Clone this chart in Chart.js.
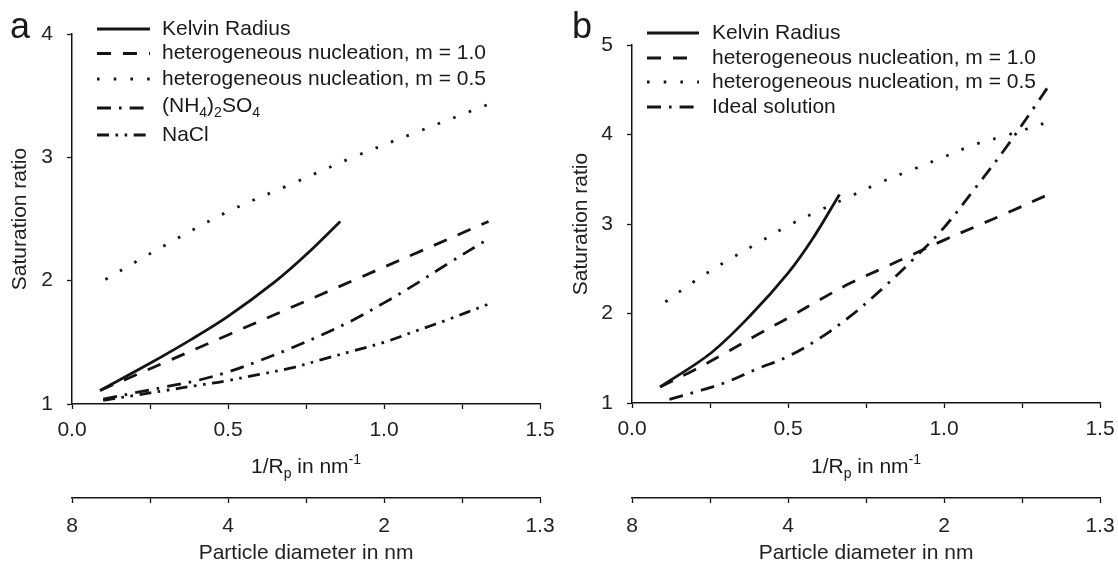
<!DOCTYPE html>
<html>
<head>
<meta charset="utf-8">
<title>Saturation ratio vs 1/Rp</title>
<script src="https://cdn.jsdelivr.net/npm/chart.js@4.4.0/dist/chart.umd.min.js"></script>
<style>
    body { margin: 0; background: #fff; }
    #wrap { position: relative; width: 1118px; height: 564px; }
    .panel { position: absolute; top: 0; width: 559px; height: 564px; }
</style>
</head>
<body>
<div id="wrap">
    <div class="panel" style="left:0"><canvas id="chartA" width="559" height="564"></canvas></div>
    <div class="panel" style="left:559px"><canvas id="chartB" width="559" height="564"></canvas></div>
</div>
<script>
// ---- Panel a data ----
const xKelvinA = [0.09, 0.25, 0.38, 0.5, 0.65, 0.75, 0.86];
const kelvinA  = [1.11, 1.33, 1.52, 1.71, 1.99, 2.21, 2.48];
const xHet10A  = [0.09, 0.3, 0.5, 0.7, 0.9, 1.1, 1.335];
const het10A   = [1.11, 1.34, 1.56, 1.78, 2.00, 2.22, 2.48];
const xHet05A  = [0.107, 0.3, 0.5, 0.7, 0.9, 1.1, 1.335];
const het05A   = [2.01, 2.29, 2.56, 2.78, 3.00, 3.20, 3.43];
const xSaltA   = [0.1, 0.2, 0.3, 0.4, 0.5, 0.6, 0.7, 0.8, 0.9, 1.0, 1.1, 1.2, 1.335];
const ammSulfA = [1.04, 1.09, 1.14, 1.19, 1.26, 1.35, 1.45, 1.56, 1.68, 1.82, 1.97, 2.13, 2.34];
const naclA    = [1.03, 1.07, 1.11, 1.15, 1.19, 1.24, 1.29, 1.36, 1.43, 1.50, 1.59, 1.68, 1.81];

// ---- Panel b data ----
const xKelvinB = [0.09, 0.25, 0.38, 0.5, 0.58, 0.665];
const kelvinB  = [1.18, 1.55, 1.98, 2.45, 2.84, 3.33];
const xHet10B  = [0.09, 0.2, 0.3, 0.4, 0.5, 0.6, 0.7, 0.8, 0.9, 1.0, 1.1, 1.2, 1.335];
const het10B   = [1.18, 1.37, 1.56, 1.76, 1.95, 2.15, 2.34, 2.50, 2.66, 2.82, 2.97, 3.12, 3.33];
const xHet05B  = [0.107, 0.2, 0.3, 0.4, 0.5, 0.6, 0.7, 0.8, 0.9, 1.0, 1.1, 1.2, 1.335];
const het05B   = [2.13, 2.36, 2.58, 2.78, 2.98, 3.15, 3.31, 3.47, 3.61, 3.75, 3.89, 3.99, 4.14];
const xIdealB  = [0.12, 0.2, 0.3, 0.4, 0.5, 0.6, 0.7, 0.8, 0.9, 1.0, 1.1, 1.2, 1.3, 1.335];
const idealB   = [1.04, 1.12, 1.23, 1.38, 1.52, 1.72, 1.97, 2.27, 2.60, 2.96, 3.40, 3.86, 4.36, 4.54];

// ---- Axes / labels ----
const xTickPos       = [0, 0.5, 1.0, 1.5];
const xTickLabels    = ['0.0', '0.5', '1.0', '1.5'];
const diameterLabels = ['8', '4', '2', '1.3'];
const legendA = ['Kelvin Radius', 'heterogeneous nucleation, m = 1.0', 'heterogeneous nucleation, m = 0.5', '(NH_{4})_{2}SO_{4}', 'NaCl'];
const legendB = ['Kelvin Radius', 'heterogeneous nucleation, m = 1.0', 'heterogeneous nucleation, m = 0.5', 'Ideal solution'];

const INK = '#141414';
const FONT = "'Liberation Sans', Arial, sans-serif";
const LINE_W = 2.8;
const DASH = {
    solid: [],
    dashed: [14, 12],
    dotted: [2.6, 14.1],
    dashDot: [14, 8, 2.6, 8],
    dashDotDot: [12, 6.5, 2.6, 6.5, 2.6, 6.5]
};

Chart.defaults.font.family = FONT;
Chart.defaults.font.size = 21;
Chart.defaults.color = '#222';

function pts(xs, ys) {
    return xs.map((x, i) => ({ x: x, y: ys[i] }));
}

function series(xs, ys, dash) {
    return {
        data: pts(xs, ys),
        borderColor: INK,
        borderWidth: LINE_W,
        borderDash: dash,
        pointRadius: 0,
        fill: false,
        tension: 0.35
    };
}

function labelAt(list, v) {
    const i = xTickPos.findIndex(p => Math.abs(p - v) < 1e-6);
    return i < 0 ? '' : list[i];
}

// text with _{sub} and ^{sup} parts, vertically centred on y
function richText(ctx, text, x, y) {
    const parts = [];
    const re = /([_^])\{([^}]*)\}/g;
    let last = 0, m;
    while ((m = re.exec(text)) !== null) {
        if (m.index > last) parts.push({ t: text.slice(last, m.index), k: '' });
        parts.push({ t: m[2], k: m[1] });
        last = re.lastIndex;
    }
    if (last < text.length) parts.push({ t: text.slice(last), k: '' });

    const measure = p => {
        ctx.font = (p.k ? '14px ' : '21px ') + FONT;
        return ctx.measureText(p.t).width;
    };
    if (x === null) return parts.reduce((s, p) => s + measure(p), 0);

    ctx.textBaseline = 'middle';
    ctx.textAlign = 'left';
    parts.forEach(p => {
        const w = measure(p);
        const dy = p.k === '_' ? 7 : (p.k === '^' ? -7 : 0);
        ctx.fillText(p.t, x, y + dy);
        x += w;
    });
}

const decorPlugin = {
    id: 'decor',
    afterDraw(chart, args, opts) {
        const ctx = chart.ctx;
        const area = chart.chartArea;
        ctx.save();
        ctx.fillStyle = '#1a1a1a';

        // panel letter
        ctx.font = '36px ' + FONT;
        ctx.textBaseline = 'alphabetic';
        ctx.textAlign = 'left';
        ctx.fillText(opts.letter, opts.letterX, 38);

        // x axis title with sub/superscript
        const title = '1/R_{p} in nm^{-1}';
        const tw = richText(ctx, title, null, 0);
        richText(ctx, title, (area.left + area.right) / 2 - tw / 2, 467);

        // legend
        opts.legend.forEach((item, i) => {
            const y = opts.rows[i];
            ctx.strokeStyle = INK;
            ctx.lineWidth = LINE_W;
            ctx.setLineDash(item.dash);
            ctx.beginPath();
            ctx.moveTo(opts.lineX0, y);
            ctx.lineTo(opts.lineX1, y);
            ctx.stroke();
            ctx.setLineDash([]);
            richText(ctx, item.text, opts.textX, item.text.indexOf('_{') >= 0 ? y - 2 : y);
        });
        ctx.restore();
    }
};

function noLabelPadding(s) {
    s.paddingLeft = 0;
    s.paddingRight = 0;
}

function makeScales(yMax, yWidth, xHeight) {
    const axisGrid = {
        drawOnChartArea: false,
        drawTicks: true,
        tickLength: 5,
        tickColor: INK,
        tickWidth: 1.3
    };
    const axisBorder = { display: true, color: INK, width: 1.5 };
    return {
        x: {
            type: 'linear',
            position: 'bottom',
            min: 0,
            max: 1.5,
            grid: axisGrid,
            border: axisBorder,
            ticks: {
                stepSize: 0.25,
                autoSkip: false,
                maxRotation: 0,
                padding: 9,
                callback: v => labelAt(xTickLabels, v)
            },
            afterFit: s => { s.height = xHeight; noLabelPadding(s); }
        },
        x2: {
            type: 'linear',
            axis: 'x',
            position: 'bottom',
            min: 0,
            max: 1.5,
            grid: axisGrid,
            border: axisBorder,
            ticks: {
                stepSize: 0.25,
                autoSkip: false,
                maxRotation: 0,
                padding: 11,
                callback: v => labelAt(diameterLabels, v)
            },
            title: {
                display: true,
                text: 'Particle diameter in nm',
                font: { lineHeight: 1.0 },
                padding: { top: 0, bottom: 0 }
            },
            afterFit: s => { s.height = 66; noLabelPadding(s); }
        },
        y: {
            type: 'linear',
            min: 1,
            max: yMax,
            grid: axisGrid,
            border: axisBorder,
            ticks: { stepSize: 1, padding: 14 },
            title: {
                display: true,
                text: 'Saturation ratio',
                padding: { top: 8, bottom: 0 }
            },
            afterFit: s => { s.width = yWidth; }
        }
    };
}

function makeChart(id, datasets, scales, padding, decor) {
    return new Chart(document.getElementById(id), {
        type: 'line',
        data: { datasets: datasets },
        options: {
            responsive: false,
            animation: false,
            layout: { padding: padding },
            plugins: {
                legend: { display: false },
                tooltip: { enabled: false },
                decor: decor
            },
            scales: scales
        },
        plugins: [decorPlugin]
    });
}

// Panel a
makeChart('chartA', [
    series(xKelvinA, kelvinA, DASH.solid),
    series(xHet10A, het10A, DASH.dashed),
    series(xHet05A, het05A, DASH.dotted),
    series(xSaltA, ammSulfA, DASH.dashDot),
    series(xSaltA, naclA, DASH.dashDotDot)
], makeScales(4, 72, 94), { top: 34, right: 19, bottom: 0, left: 0 }, {
    letter: 'a',
    letterX: 10,
    lineX0: 97,
    lineX1: 150,
    textX: 162,
    rows: [29, 53.5, 79, 108, 135],
    legend: [
        { text: legendA[0], dash: DASH.solid },
        { text: legendA[1], dash: DASH.dashed },
        { text: legendA[2], dash: DASH.dotted },
        { text: legendA[3], dash: DASH.dashDot },
        { text: legendA[4], dash: DASH.dashDotDot }
    ]
});

// Panel b
const scalesB = makeScales(5, 73, 95);
scalesB.y.title.padding = { top: 10, bottom: 0 };
makeChart('chartB', [
    series(xKelvinB, kelvinB, DASH.solid),
    series(xHet10B, het10B, DASH.dashed),
    series(xHet05B, het05B, DASH.dotted),
    series(xIdealB, idealB, DASH.dashDot)
], scalesB, { top: 45, right: 18, bottom: 0, left: 0 }, {
    letter: 'b',
    letterX: 13,
    lineX0: 88,
    lineX1: 140,
    textX: 153,
    rows: [33, 58, 82, 107],
    legend: [
        { text: legendB[0], dash: DASH.solid },
        { text: legendB[1], dash: DASH.dashed },
        { text: legendB[2], dash: DASH.dotted },
        { text: legendB[3], dash: DASH.dashDot }
    ]
});
</script>
</body>
</html>
